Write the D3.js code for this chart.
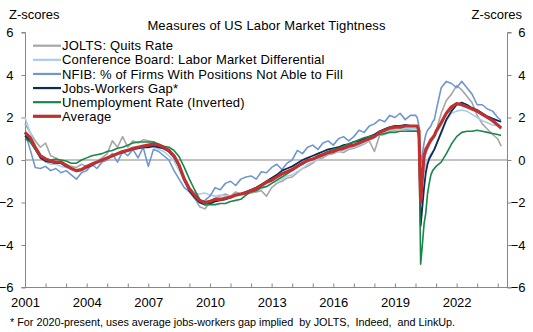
<!DOCTYPE html>
<html><head><meta charset="utf-8">
<script src="https://cdn.jsdelivr.net/npm/d3@7"></script>
<style>
body{margin:0;background:#fff}
svg{display:block}
text{font-family:"Liberation Sans",Arial,sans-serif;fill:#000}
</style>
</head><body>
<svg id="chart" width="533" height="332"></svg>
<script>
// ---------------- DATA ----------------
const dates = [
"2001-01","2001-04","2001-07","2001-10","2002-01","2002-04","2002-07","2002-10",
"2003-01","2003-04","2003-07","2003-10","2004-01","2004-04","2004-07","2004-10",
"2005-01","2005-04","2005-07","2005-10","2006-01","2006-04","2006-07","2006-10",
"2007-01","2007-04","2007-07","2007-10","2008-01","2008-04","2008-07","2008-10",
"2009-01","2009-04","2009-07","2009-10","2010-01","2010-04","2010-07","2010-10",
"2011-01","2011-04","2011-07","2011-10","2012-01","2012-04","2012-07","2012-10",
"2013-01","2013-04","2013-07","2013-10","2014-01","2014-04","2014-07","2014-10",
"2015-01","2015-04","2015-07","2015-10","2016-01","2016-04","2016-07","2016-10",
"2017-01","2017-04","2017-07","2017-10","2018-01","2018-04","2018-07","2018-10",
"2019-01","2019-04","2019-07","2019-10",
"2020-01","2020-02","2020-03","2020-04","2020-05","2020-06","2020-07","2020-08","2020-09","2020-10","2020-11","2020-12",
"2021-01","2021-04","2021-07","2021-10","2022-01","2022-04","2022-07","2022-10",
"2023-01","2023-04","2023-07","2023-10","2024-01","2024-03"
];

const joltsQuits = [
1.7,1.3,0.9,0.6, 0.8,0.2,0.1,-0.1,
-0.2,-0.3,-0.35,-0.2, -0.3,-0.15,-0.05,0.1,
0.3,0.9,0.6,1.1, 0.6,0.9,0.8,0.95,
0.9,0.85,0.7,0.5, 0.4,0.1,-0.3,-0.9,
-1.4,-1.8,-2.2,-2.3, -2.0,-1.8,-1.7,-1.6,
-1.7,-1.5,-1.6,-1.5, -1.55,-1.5,-1.45,-1.7,
-1.3,-1.1,-1.0,-0.85, -0.8,-0.6,-0.4,-0.3,
-0.15,0.05,0.1,0.25, 0.3,0.4,0.35,0.5,
0.55,0.65,0.75,0.9, 0.4,1.15,1.2,1.35,
1.4,1.45,1.45,1.4,
1.4,1.4,1.0,-1.5,-0.5,0.0,0.3,0.5,0.7,0.85,0.95,1.1,
1.35,2.2,2.8,3.1, 3.5,3.3,3.0,2.7,
2.1,1.7,1.45,1.2, 1.0,0.65
];

const confBoard = [
2.0,1.3,0.6,0.15, -0.1,-0.2,-0.2,-0.3,
-0.35,-0.45,-0.55,-0.5, -0.4,-0.3,-0.15,-0.05,
0.05,0.15,0.25,0.35, 0.4,0.5,0.6,0.65,
0.65,0.6,0.5,0.4, 0.2,-0.05,-0.5,-1.0,
-1.4,-1.6,-1.6,-1.55, -1.65,-1.7,-1.65,-1.7,
-1.7,-1.6,-1.65,-1.6, -1.5,-1.4,-1.35,-1.25,
-1.1,-1.0,-0.9,-0.75, -0.7,-0.55,-0.4,-0.2,
-0.1,0.05,0.2,0.3, 0.35,0.4,0.45,0.55,
0.6,0.7,0.8,0.95, 1.05,1.2,1.3,1.4,
1.45,1.45,1.5,1.5,
1.5,1.5,1.2,-1.4,-0.9,-0.5,-0.2,0.0,0.15,0.3,0.4,0.5,
0.7,1.25,1.85,2.2, 2.3,2.35,2.3,2.15,
2.0,1.85,1.75,1.65, 1.6,1.45
];

const nfib = [
1.3,0.5,-0.35,-0.4, -0.3,-0.5,-0.4,-0.6,
-0.5,-0.7,-0.9,-0.6, -0.5,-0.2,-0.4,-0.1,
0.0,0.3,-0.1,0.4, 0.2,0.5,0.1,0.6,
-0.3,0.5,0.4,0.2, 0.0,-0.5,-0.9,-1.3,
-1.5,-1.8,-2.0,-1.9, -1.7,-1.3,-1.4,-1.1,
-1.0,-1.2,-0.9,-0.8, -0.75,-0.9,-0.55,-0.6,
-0.35,-0.2,-0.45,-0.15, 0.0,0.45,0.3,0.6,
0.7,0.5,0.8,0.9, 0.7,1.0,1.1,0.9,
1.1,1.4,1.3,1.6, 1.7,1.9,1.8,2.1,
2.0,2.2,1.9,2.1,
2.1,2.0,1.6,-0.2,0.3,0.8,1.2,1.4,1.5,1.6,1.8,1.9,
2.3,3.4,3.7,3.6, 3.4,3.7,3.4,3.1,
2.6,2.6,2.4,2.3, 2.0,1.85
];

const jobsWorkersGap = [
1.15,0.9,0.5,0.1, -0.05,-0.1,-0.15,-0.15,
-0.3,-0.4,-0.5,-0.45, -0.35,-0.25,-0.1,0.0,
0.1,0.2,0.3,0.35, 0.45,0.5,0.55,0.6,
0.6,0.65,0.6,0.55, 0.4,0.15,-0.3,-0.95,
-1.45,-1.75,-2.0,-2.1, -2.05,-1.95,-1.9,-1.85,
-1.75,-1.65,-1.6,-1.5, -1.4,-1.3,-1.15,-1.0,
-0.85,-0.7,-0.5,-0.4, -0.3,-0.15,0.0,0.1,
0.2,0.3,0.4,0.5, 0.55,0.6,0.7,0.75,
0.85,0.9,1.0,1.1, 1.2,1.35,1.45,1.55,
1.6,1.6,1.65,1.6,
1.6,1.6,1.3,-3.1,-2.2,-1.3,-0.6,-0.2,0.05,0.2,0.35,0.5,
0.7,1.3,1.9,2.3, 2.6,2.7,2.6,2.45,
2.35,2.2,2.05,1.95, 1.85,1.8
];

const unemploymentInv = [
1.0,0.85,0.5,0.15, 0.05,0.0,0.05,0.0,
-0.05,-0.15,-0.15,0.0, 0.1,0.2,0.25,0.3,
0.4,0.45,0.55,0.6, 0.7,0.8,0.85,0.85,
0.85,0.85,0.75,0.65, 0.6,0.45,0.15,-0.35,
-0.9,-1.4,-1.85,-2.1, -2.1,-2.1,-2.05,-2.05,
-1.95,-1.9,-1.85,-1.65, -1.5,-1.45,-1.3,-1.25,
-1.1,-0.95,-0.8,-0.65, -0.5,-0.3,-0.2,-0.05,
0.05,0.2,0.3,0.4, 0.5,0.55,0.65,0.75,
0.85,0.95,1.05,1.1, 1.15,1.2,1.25,1.3,
1.3,1.35,1.35,1.35,
1.35,1.35,1.2,-4.9,-4.0,-3.0,-2.5,-1.6,-1.1,-0.7,-0.5,-0.4,
-0.3,-0.1,0.3,0.75, 1.1,1.3,1.35,1.35,
1.4,1.35,1.3,1.25, 1.2,1.15
];

const average = [
1.3,1.05,0.6,0.2, 0.05,-0.05,-0.1,-0.1,
-0.25,-0.4,-0.5,-0.45, -0.3,-0.2,-0.1,0.0,
0.1,0.2,0.3,0.4, 0.45,0.55,0.6,0.65,
0.7,0.75,0.7,0.6, 0.45,0.2,-0.25,-0.9,
-1.35,-1.65,-1.9,-2.0, -1.95,-1.85,-1.85,-1.8,
-1.75,-1.65,-1.6,-1.55, -1.45,-1.35,-1.2,-1.05,
-0.95,-0.8,-0.65,-0.55, -0.45,-0.3,-0.15,-0.02,
0.05,0.15,0.25,0.35, 0.4,0.5,0.55,0.65,
0.7,0.8,0.9,1.0, 1.1,1.3,1.4,1.5,
1.55,1.55,1.6,1.6,
1.6,1.6,1.4,-2.0,-0.8,0.2,0.5,0.65,0.8,0.95,1.05,1.15,
1.35,1.75,2.2,2.5, 2.65,2.6,2.5,2.4,
2.3,2.15,2.0,1.85, 1.65,1.5
];

const seriesNames = [
"JOLTS: Quits Rate",
"Conference Board: Labor Market Differential",
"NFIB: % of Firms With Positions Not Able to Fill",
"Jobs-Workers Gap*",
"Unemployment Rate (Inverted)",
"Average"
];
const seriesValues = [joltsQuits, confBoard, nfib, jobsWorkersGap, unemploymentInv, average];

const yTicks = [6,4,2,0,-2,-4,-6];
const xTickYears = [2001,2002,2003,2004,2005,2006,2007,2008,2009,2010,2011,2012,2013,2014,2015,2016,2017,2018,2019,2020,2021,2022,2023,2024];
const xLabelYears = [2001,2004,2007,2010,2013,2016,2019,2022];

const titleText = "Measures of US Labor Market Tightness";
const yUnit = "Z-scores";
const footnote = "* For 2020-present, uses average jobs-workers gap implied\u00a0 by JOLTS,\u00a0 Indeed,\u00a0 and LinkUp.";

// ---------------- STYLE ----------------
const colors = ["#a6a6a6","#a9cdec","#6f96cf","#0c2a5a","#17874a","#c0302e"];
const widths = [1.6,1.6,1.6,1.8,1.6,3.2];
const legendWidths = [2.2,2.2,2.2,2.2,2.2,3.2];

// ---------------- DRAW ----------------
const svg = d3.select("#chart");
const toYear = s => { const [y,m] = s.split("-").map(Number); return y + (m-1)/12; };
const xs = dates.map(toYear);

const x = d3.scaleLinear().domain([2001, 2024.5]).range([25, 508]);
const y = d3.scaleLinear().domain([-6, 6]).range([287.5, 32.5]);
const axisColor = "#868686";

// zero line
svg.append("line").attr("x1", x(2001)).attr("x2", x(2024.5))
  .attr("y1", y(0)).attr("y2", y(0)).attr("stroke", axisColor).attr("stroke-width", 1);

// left axis
const gL = svg.append("g").attr("transform", `translate(${x(2001)+0.5},0)`)
  .call(d3.axisLeft(y).tickValues(yTicks).tickSize(4).tickPadding(8).tickFormat(d3.format("d")));
// right axis
const gR = svg.append("g").attr("transform", `translate(${x(2024.5)-0.5},0)`)
  .call(d3.axisRight(y).tickValues(yTicks).tickSize(4).tickPadding(7).tickFormat(d3.format("d")));
gR.selectAll("text").attr("text-anchor","end").attr("x", 18);
// bottom axis (ticks pointing up)
const gB = svg.append("g").attr("transform", `translate(0,${y(-6)})`)
  .call(d3.axisBottom(x).tickValues(xTickYears).tickSize(-4).tickFormat(d => xLabelYears.includes(d) ? String(d) : ""));
gB.selectAll("text").attr("y", 19).attr("dy", 0);

[gL,gR,gB].forEach(g => {
  g.select(".domain").attr("stroke", axisColor).attr("stroke-width", 1);
  g.selectAll(".tick line").attr("stroke", axisColor);
  g.selectAll("text").style("font-size","13px").style("font-family",'"Liberation Sans",Arial,sans-serif').attr("fill","#000");
});
gL.select(".domain").attr("d", `M-4,${y(6)}H0V${y(-6)}H-4`);
gR.select(".domain").attr("d", `M4,${y(6)}H0V${y(-6)}H4`);
gB.select(".domain").attr("d", `M${x(2001)},0H${x(2024.5)}`);

// series lines
const line = d3.line().x((d,i) => x(xs[i])).y(d => y(d));
seriesValues.forEach((vals, k) => {
  svg.append("path").datum(vals).attr("d", line)
    .attr("fill","none").attr("stroke", colors[k]).attr("stroke-width", widths[k])
    .attr("stroke-linejoin","round").attr("stroke-linecap","butt");
});

// title and units
svg.append("text").attr("x", 266.5).attr("y", 30).attr("text-anchor","middle")
  .style("font-size","13px").style("letter-spacing","0.15px").text(titleText);
svg.append("text").attr("x", 9).attr("y", 18.5).style("font-size","13px").text(yUnit);
svg.append("text").attr("x", 522).attr("y", 18.5).attr("text-anchor","end").style("font-size","13px").text(yUnit);

// legend
const legendRowY = d3.scaleLinear().domain([0,5]).range([45.7, 116.3]);
seriesNames.forEach((name, k) => {
  const cy = legendRowY(k);
  svg.append("line").attr("x1", 33).attr("x2", 61).attr("y1", cy).attr("y2", cy)
    .attr("stroke", colors[k]).attr("stroke-width", legendWidths[k]);
  svg.append("text").attr("x", 62).attr("y", cy + 4.6).style("font-size","13px")
    .style("letter-spacing","0.18px").text(name);
});

// footnote
svg.append("text").attr("x", 10).attr("y", 325.5).style("font-size","10.8px").text(footnote);
</script>
</body></html>
